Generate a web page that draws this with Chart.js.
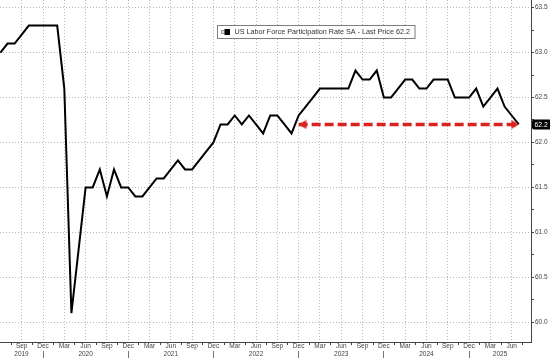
<!DOCTYPE html>
<html>
<head>
<meta charset="utf-8">
<script src="https://cdn.jsdelivr.net/npm/chart.js@4.4.1/dist/chart.umd.min.js"></script>
<style>
  html, body { margin: 0; padding: 0; background: #ffffff; }
  #wrap { width: 550px; height: 358px; position: relative; }
</style>
</head>
<body>
<div id="wrap"><canvas id="c" width="550" height="358"></canvas></div>
<script>
// ---------- data ----------
const months = [
  'Jun 2019','Jul 2019','Aug 2019','Sep 2019','Oct 2019','Nov 2019','Dec 2019',
  'Jan 2020','Feb 2020','Mar 2020','Apr 2020','May 2020','Jun 2020','Jul 2020','Aug 2020','Sep 2020','Oct 2020','Nov 2020','Dec 2020',
  'Jan 2021','Feb 2021','Mar 2021','Apr 2021','May 2021','Jun 2021','Jul 2021','Aug 2021','Sep 2021','Oct 2021','Nov 2021','Dec 2021',
  'Jan 2022','Feb 2022','Mar 2022','Apr 2022','May 2022','Jun 2022','Jul 2022','Aug 2022','Sep 2022','Oct 2022','Nov 2022','Dec 2022',
  'Jan 2023','Feb 2023','Mar 2023','Apr 2023','May 2023','Jun 2023','Jul 2023','Aug 2023','Sep 2023','Oct 2023','Nov 2023','Dec 2023',
  'Jan 2024','Feb 2024','Mar 2024','Apr 2024','May 2024','Jun 2024','Jul 2024','Aug 2024','Sep 2024','Oct 2024','Nov 2024','Dec 2024',
  'Jan 2025','Feb 2025','Mar 2025','Apr 2025','May 2025','Jun 2025','Jul 2025'
];
const participationRate = [
  63.0, 63.1, 63.1, 63.2, 63.3, 63.3, 63.3,
  63.3, 63.3, 62.6, 60.1, 60.8, 61.5, 61.5, 61.7, 61.4, 61.7, 61.5, 61.5,
  61.4, 61.4, 61.5, 61.6, 61.6, 61.7, 61.8, 61.7, 61.7, 61.8, 61.9, 62.0,
  62.2, 62.2, 62.3, 62.2, 62.3, 62.2, 62.1, 62.3, 62.3, 62.2, 62.1, 62.3,
  62.4, 62.5, 62.6, 62.6, 62.6, 62.6, 62.6, 62.8, 62.7, 62.7, 62.8, 62.5,
  62.5, 62.6, 62.7, 62.7, 62.6, 62.6, 62.7, 62.7, 62.7, 62.5, 62.5, 62.5,
  62.6, 62.4, 62.5, 62.6, 62.4, 62.3, 62.2
];
const seriesName = 'US Labor Force Participation Rate SA';
const arrowMonths = ['Dec 2022', 'Jul 2025'];
const arrowLevels = [62.2, 62.2];
const yMajorTicks = [60.0, 60.5, 61.0, 61.5, 62.0, 62.5, 63.0, 63.5];
const yMinorTicks = [60.25, 60.75, 61.25, 61.75, 62.25, 62.75, 63.25];
const quarterMonths = ['Mar', 'Jun', 'Sep', 'Dec'];
const yearLabels = ['2019', '2020', '2021', '2022', '2023', '2024', '2025'];

// ---------- layout / style constants ----------
const X_MIN = -0.056, X_MAX = 74.72;
const Y_MIN = 59.78, Y_MAX = 63.585;
const FONT = 'Liberation Sans, Arial, sans-serif';
const GRID = '#b9b9b9';
const AXIS = '#444444';
const RED = '#d8231f';

// ---------- derived helpers ----------
const monthName = i => months[i].slice(0, 3);
const isQuarterIdx = v => Number.isInteger(v) && v >= 0 && v < months.length && quarterMonths.includes(monthName(v));
const quarterIdx = months.map((m, i) => i).filter(i => isQuarterIdx(i));
const xTickValues = [];
quarterIdx.forEach(i => {
  if (i >= 1) xTickValues.push(i);
  if (i + 1.5 <= X_MAX) xTickValues.push(i + 1.5);
});
const decIdx = months.map((m, i) => i).filter(i => months[i].startsWith('Dec'));
const yearCenters = yearLabels.map(y => {
  const start = months.indexOf('Dec ' + (Number(y) - 1));
  const end = months.indexOf('Dec ' + y);
  const a = start < 0 ? X_MIN : start;
  const b = end < 0 ? X_MAX : end;
  return (a + b) / 2;
});
const mainPoints = participationRate.map((v, i) => ({ x: i, y: v }));
const arrowPoints = arrowMonths.map((m, k) => ({ x: months.indexOf(m), y: arrowLevels[k] }));
const lastValue = participationRate[participationRate.length - 1];

function arrowHead(dir) {
  const c = document.createElement('canvas');
  c.width = 16; c.height = 10;
  const g = c.getContext('2d');
  g.fillStyle = RED;
  g.beginPath();
  if (dir < 0) { g.moveTo(8, 5); g.lineTo(15.5, 0.5); g.lineTo(15.5, 9.5); }
  else { g.moveTo(8, 5); g.lineTo(0.5, 0.5); g.lineTo(0.5, 9.5); }
  g.closePath(); g.fill();
  return c;
}
const heads = [arrowHead(-1), arrowHead(1)];

const isMajorY = v => yMajorTicks.some(t => Math.abs(t - v) < 1e-6);
const noPad = s => { s.paddingTop = 0; s.paddingBottom = 0; s.paddingLeft = 0; s.paddingRight = 0; };

// ---------- custom drawing: legend box & last price tag ----------
const decorPlugin = {
  id: 'decor',
  afterDraw(chart) {
    const ctx = chart.ctx;
    const ys = chart.scales.y;
    ctx.save();
    ctx.fillStyle = '#ffffff';
    ctx.strokeStyle = '#7d7d7d';
    ctx.lineWidth = 1;
    ctx.fillRect(217.5, 25.5, 197.5, 13);
    ctx.strokeRect(217.5, 25.5, 197.5, 13);
    ctx.strokeStyle = '#9a9a9a';
    ctx.strokeRect(221.5, 30.5, 2.5, 3);
    ctx.fillStyle = '#000000';
    ctx.fillRect(224.5, 29, 5.5, 6);
    ctx.fillStyle = '#333333';
    ctx.font = '7.2px ' + FONT;
    ctx.textBaseline = 'middle';
    ctx.textAlign = 'left';
    ctx.fillText(seriesName + ' - Last Price ' + lastValue.toFixed(1), 234.5, 32.3);
    const py = ys.getPixelForValue(lastValue);
    ctx.fillStyle = '#000000';
    ctx.beginPath();
    if (ctx.roundRect) ctx.roundRect(ys.left + 1, py - 5, 19, 10, 2); else ctx.rect(ys.left + 1, py - 5, 19, 10);
    ctx.fill();
    ctx.fillStyle = '#ffffff';
    ctx.font = '6.8px ' + FONT;
    ctx.fillText(lastValue.toFixed(1), ys.left + 3.5, py + 0.5);
    ctx.restore();
  }
};

new Chart(document.getElementById('c'), {
  type: 'line',
  data: {
    datasets: [
      {
        label: 'arrow',
        data: arrowPoints,
        borderColor: RED,
        borderWidth: 3.5,
        borderDash: [9, 4],
        pointStyle: heads,
        pointRadius: 5,
        pointHoverRadius: 5,
        fill: false,
        tension: 0
      },
      {
        label: seriesName,
        data: mainPoints,
        borderColor: '#000000',
        borderWidth: 2,
        pointRadius: 0,
        fill: false,
        tension: 0
      }
    ]
  },
  options: {
    responsive: false,
    animation: false,
    devicePixelRatio: 1,
    layout: { padding: 0, autoPadding: false },
    plugins: { legend: { display: false }, tooltip: { enabled: false } },
    events: [],
    scales: {
      x: {
        type: 'linear',
        position: 'bottom',
        min: X_MIN, max: X_MAX,
        afterBuildTicks: s => { s.ticks = xTickValues.map(v => ({ value: v })); },
        afterFit: s => { s.height = 9; noPad(s); },
        ticks: {
          autoSkip: false, maxRotation: 0, minRotation: 0,
          padding: -2.2,
          color: AXIS,
          font: { family: FONT, size: 6.5 },
          callback: v => isQuarterIdx(v) ? monthName(v) : ''
        },
        grid: {
          color: c => (c.tick && isQuarterIdx(c.tick.value)) ? GRID : 'rgba(0,0,0,0)',
          tickColor: c => (c.tick && isQuarterIdx(c.tick.value)) ? 'rgba(0,0,0,0)' : AXIS,
          tickLength: 3,
          lineWidth: 1
        },
        border: { display: true, color: AXIS, width: 1, dash: [1, 2] }
      },
      x2: {
        type: 'linear',
        position: 'bottom',
        min: X_MIN, max: X_MAX,
        afterBuildTicks: s => {
          s.ticks = yearCenters.map(v => ({ value: v })).concat(decIdx.map(v => ({ value: v })));
        },
        afterFit: s => { s.height = 7; noPad(s); },
        ticks: {
          autoSkip: false, maxRotation: 0, minRotation: 0,
          padding: -8.6,
          color: AXIS,
          font: { family: FONT, size: 6.5 },
          callback: (v) => {
            const k = yearCenters.findIndex(c => Math.abs(c - v) < 1e-6);
            return k >= 0 ? yearLabels[k] : '';
          }
        },
        grid: {
          drawOnChartArea: false,
          color: 'rgba(0,0,0,0)',
          tickColor: c => (c.tick && decIdx.includes(c.tick.value)) ? '#777777' : 'rgba(0,0,0,0)',
          tickLength: 8
        },
        border: { display: false }
      },
      y: {
        type: 'linear',
        position: 'right',
        min: Y_MIN, max: Y_MAX,
        afterBuildTicks: s => {
          s.ticks = yMajorTicks.concat(yMinorTicks).sort((a, b) => a - b).map(v => ({ value: v }));
        },
        afterFit: s => { s.width = 19; noPad(s); },
        ticks: {
          autoSkip: false,
          padding: 1,
          color: AXIS,
          font: { family: FONT, size: 6.5 },
          callback: v => isMajorY(v) ? v.toFixed(1) : ''
        },
        grid: {
          color: c => (c.tick && isMajorY(c.tick.value)) ? GRID : 'rgba(0,0,0,0)',
          tickColor: AXIS,
          tickLength: 3,
          lineWidth: 1
        },
        border: { display: true, color: AXIS, width: 1, dash: [1, 2] }
      }
    }
  },
  plugins: [decorPlugin]
});
</script>
</body>
</html>
